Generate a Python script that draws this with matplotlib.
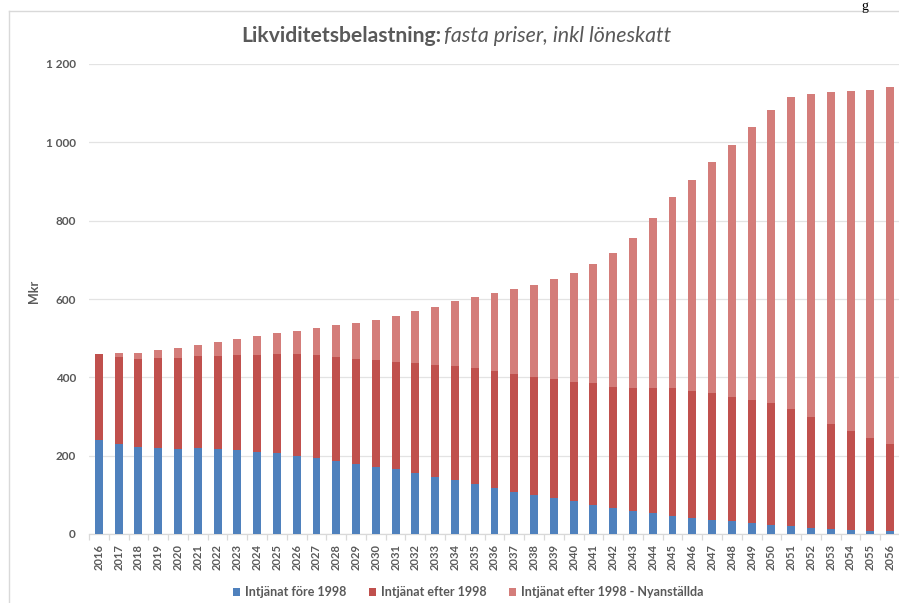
import numpy as np
import matplotlib
matplotlib.use("Agg")
import matplotlib.pyplot as plt
from matplotlib.ticker import FuncFormatter, MultipleLocator
from matplotlib.lines import Line2D

plt.rcParams["font.family"] = ["Lato", "DejaVu Sans"]

years = [str(y) for y in range(2016, 2057)]
fore_1998 = [240, 229, 221, 219, 217, 219, 217, 214, 210, 206, 200, 194, 187, 180,
             172, 165, 155, 146, 137, 128, 118, 108, 100, 92, 83, 75, 67, 59, 53,
             47, 41, 37, 32, 27, 22, 20, 16, 12, 11, 8, 7]
efter_1998 = [220, 224, 226, 230, 232, 235, 238, 243, 247, 253, 260, 263, 264, 267,
              271, 275, 281, 285, 291, 295, 297, 300, 301, 303, 304, 310, 309, 313,
              321, 325, 325, 324, 319, 315, 312, 299, 284, 269, 253, 237, 223]
nyanstallda = [0, 10, 16, 21, 25, 29, 36, 42, 48, 53, 59, 68, 82, 92, 103, 117, 133,
               148, 167, 183, 200, 217, 236, 255, 280, 304, 341, 383, 433, 488, 539,
               589, 643, 696, 749, 796, 824, 847, 867, 888, 911]
series_names = ["Intjänat före 1998", "Intjänat efter 1998",
                "Intjänat efter 1998 - Nyanställda"]
colors = ["#4F81BD", "#C0504D", "#D47D7A"]

grey = "#595959"

fig = plt.figure(figsize=(8.99, 6.03), dpi=100)
ax = fig.add_axes([89 / 899, 69 / 603, 811 / 899, 470 / 603])

x = np.arange(len(years))
bottom = np.zeros(len(years))
for vals, col, name in zip([fore_1998, efter_1998, nyanstallda], colors, series_names):
    vals = np.array(vals, dtype=float)
    ax.bar(x, vals, width=0.4, bottom=bottom, color=col, label=name, zorder=3)
    bottom += vals

ax.set_xlim(-0.5, len(years) - 0.5)
ax.set_ylim(0, 1200)
ax.yaxis.set_major_locator(MultipleLocator(200))
ax.yaxis.set_major_formatter(FuncFormatter(lambda v, p: f"{int(v):,}".replace(",", " ")))
ax.grid(axis="y", color="#E3E3E3", linewidth=0.9, zorder=0)

for s in ["top", "right", "left"]:
    ax.spines[s].set_visible(False)
ax.spines["bottom"].set_color("#D9D9D9")
ax.spines["bottom"].set_linewidth(0.9)

ax.set_xticks(x)
ax.set_xticklabels(years, rotation=90, fontsize=8, fontweight="bold", color=grey)
ax.set_xticks(np.arange(-0.5, len(years)), minor=True)
ax.tick_params(axis="x", which="major", length=0, pad=7)
ax.tick_params(axis="x", which="minor", length=4, color="#D9D9D9", width=0.9)
ax.tick_params(axis="y", length=0, pad=9.5, labelsize=8.5, labelcolor=grey)
for lbl in ax.get_yticklabels():
    lbl.set_fontweight("bold")

fig.text(34 / 899, 1 - 291 / 603, "Mkr", rotation=90, ha="center", va="center",
         fontsize=9, fontweight="bold", color=grey)

# title: bold part + italic part
fig.text(441 / 899, 1 - 36 / 603, "Likviditetsbelastning:", ha="right", va="center",
         fontsize=15.2, fontweight="bold", color=grey)
fig.text(444 / 899, 1 - 36 / 603, "fasta priser, inkl löneskatt", ha="left",
         va="center", fontsize=15.4, fontstyle="italic", color=grey)

# letter from the surrounding page, top right
fig.text(865 / 899, 1.0, "g", ha="center", va="top", fontsize=10,
         family="Liberation Serif", color="black")

# outer chart frame (partly cut)
fig.add_artist(Line2D([9 / 899, 1], [1 - 10.7 / 603] * 2, color="#D9D9D9", lw=1))
fig.add_artist(Line2D([9 / 899] * 2, [0, 1 - 10.7 / 603], color="#D9D9D9", lw=1))

fig.legend(loc="center", bbox_to_anchor=(468 / 899, 1 - 592 / 603), ncol=3,
           frameon=False, handlelength=0.6, handleheight=0.6,
           handletextpad=0.35, columnspacing=1.8, labelcolor=grey,
           prop={"weight": "bold", "size": 9})

fig.savefig("out.png", dpi=100)
